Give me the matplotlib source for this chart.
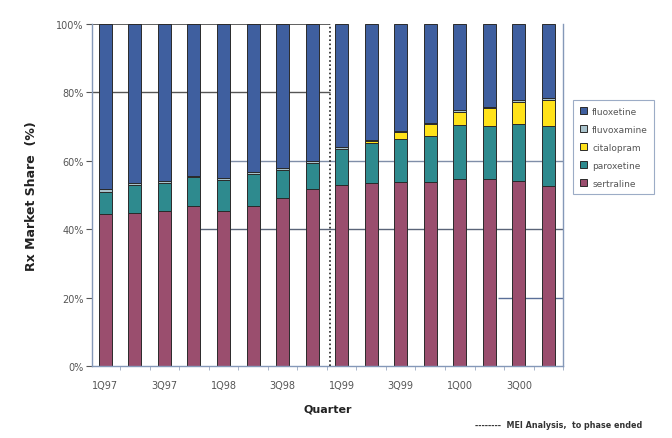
import matplotlib.pyplot as plt
import numpy as np

# quarterly Rx market share of SSRIs, 1Q97 - 4Q00
quarters = ['1Q97', '2Q97', '3Q97', '4Q97', '1Q98', '2Q98', '3Q98', '4Q98',
            '1Q99', '2Q99', '3Q99', '4Q99', '1Q00', '2Q00', '3Q00', '4Q00']
sertraline = [44.5, 44.8, 45.4, 46.9, 45.4, 46.9, 49.0, 51.8,
              52.9, 53.4, 53.7, 53.7, 54.7, 54.7, 54.2, 52.7]
paroxetine = [6.5, 8.0, 8.1, 8.3, 9.0, 9.2, 8.3, 7.7,
              10.6, 11.9, 12.6, 13.6, 15.8, 15.6, 16.6, 17.6]
citalopram = [0, 0, 0, 0, 0, 0, 0, 0,
              0, 0.5, 2.0, 3.4, 3.9, 5.0, 6.5, 7.5]
fluvoxamine = [0.7, 0.8, 0.6, 0.5, 0.6, 0.6, 0.5, 0.5,
               0.4, 0.4, 0.5, 0.5, 0.5, 0.5, 0.6, 0.6]
fluoxetine = list(100 - np.array(sertraline) - np.array(paroxetine)
                  - np.array(citalopram) - np.array(fluvoxamine))

tick_labels = ['1Q97', '3Q97', '1Q98', '3Q98', '1Q99', '3Q99', '1Q00', '3Q00']

series = [('sertraline', sertraline, '#9a4e6e'),
          ('paroxetine', paroxetine, '#2e8a8e'),
          ('citalopram', citalopram, '#ffe21a'),
          ('fluvoxamine', fluvoxamine, '#a9c3cc'),
          ('fluoxetine', fluoxetine, '#3f5f9f')]

fig = plt.figure(figsize=(6.72, 4.39), dpi=100)
ax = fig.add_axes([0.137, 0.164, 0.701, 0.779])

x = np.arange(len(quarters))

# broken grid lines behind the bars
ax.hlines(100, -0.45, 7.6, color='#444444', lw=1.2, zorder=1)
ax.hlines(80, -0.45, 7.6, color='#555555', lw=1.0, zorder=1)
ax.hlines(60, 4.2, 15.5, color='#7f8ea8', lw=1.0, zorder=1)
ax.hlines(40, 3.2, 15.5, color='#5a6478', lw=1.0, zorder=1)
ax.hlines(20, 13.3, 15.5, color='#5a6f98', lw=1.0, zorder=1)

bottom = np.zeros(len(quarters))
handles = {}
for name, vals, col in series:
    vals = np.array(vals)
    b = ax.bar(x, vals, width=0.44, bottom=bottom, color=col,
               edgecolor='#2a2a2a', linewidth=0.7, zorder=2, label=name)
    handles[name] = b
    bottom += vals

ax.axvline(7.62, color='#222222', lw=1.2, ls=(0, (1, 1.5)), zorder=3)

ax.set_xlim(-0.45, 15.5)
ax.set_ylim(0, 100)
ax.set_yticks([0, 20, 40, 60, 80, 100])
ax.set_yticklabels(['0%', '20%', '40%', '60%', '80%', '100%'],
                   fontsize=7, color='#555555')
ax.set_xticks(x[::2])
ax.set_xticklabels(tick_labels, fontsize=7, color='#555555')
ax.set_xticks(x + 0.5, minor=True)
ax.tick_params(axis='x', which='major', length=0, pad=10)
ax.tick_params(axis='x', which='minor', length=3, color='#9aa8c0')
ax.tick_params(axis='y', length=4, color='#555555', pad=2)

for side in ['left', 'right', 'bottom']:
    ax.spines[side].set_color('#8498b8')
    ax.spines[side].set_linewidth(1.0)
ax.spines['top'].set_visible(False)

ax.set_ylabel('Rx Market Share  (%)', fontsize=9, fontweight='bold',
              color='#222222', labelpad=13)
ax.set_xlabel('Quarter', fontsize=8, fontweight='bold', color='#222222',
              labelpad=10)

order = ['fluoxetine', 'fluvoxamine', 'citalopram', 'paroxetine', 'sertraline']
leg = ax.legend([handles[n] for n in order], order, loc='center left',
                bbox_to_anchor=(1.012, 0.64), fontsize=6.5, frameon=True,
                fancybox=False, handlelength=0.8, handleheight=0.8,
                labelspacing=1.0, borderpad=0.7, handletextpad=0.6)
leg.get_frame().set_edgecolor('#8498b8')
leg.get_frame().set_linewidth(0.8)
for t in leg.get_texts():
    t.set_color('#555555')

fig.text(0.707, 0.025, '--------  MEI Analysis,  to phase ended', fontsize=5.8,
         color='#333333', fontweight='bold')

fig.savefig('out.png', dpi=100)
